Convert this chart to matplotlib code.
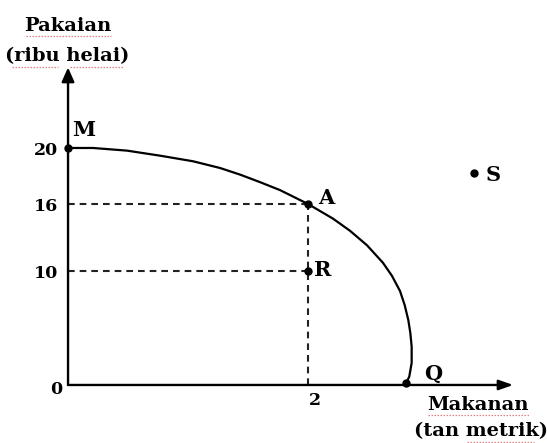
import numpy as np
import matplotlib
matplotlib.use("Agg")
import matplotlib.pyplot as plt
from matplotlib.lines import Line2D

# ---- data ----
curve_x = [0.0, 0.208, 0.492, 0.767, 1.042, 1.267, 1.433, 1.600, 1.767, 2.0,
           2.208, 2.35, 2.492, 2.625, 2.70, 2.767, 2.806, 2.836, 2.853, 2.864, 2.864, 2.844, 2.82]
curve_y = [20.0, 20.0, 19.81, 19.45, 19.05, 18.57, 18.1, 17.56, 16.99, 16.0,
           14.69, 13.6, 12.30, 10.73, 9.57, 8.24, 7.0, 5.70, 4.56, 3.36, 1.93, 0.73, 0.2]
point_names = ["M", "A", "R", "Q", "S"]
point_x = [0.0, 2.0, 2.0, 2.82, 3.38]
point_y = [20.0, 16.0, 10.0, 0.2, 18.2]
y_ticks = [0, 10, 16, 20]
y_tick_labels = ["0", "10", "16", "20"]
x_ticks = [2]
x_tick_labels = ["2"]
y_title = ["Pakaian", "(ribu helai)"]
x_title = ["Makanan", "(tan metrik)"]

# schematic (non-uniform) vertical scale, as drawn in the original
_yd = [-10, 0, 10, 16, 20, 40]
_yp = [-114, 0, 114, 181, 237, 517]
def fwd(v):
    return np.interp(v, _yd, _yp)
def inv(v):
    return np.interp(v, _yp, _yd)

fig = plt.figure(figsize=(5.47, 4.43), dpi=100)
ax = fig.add_axes([0, 0, 1, 1])
ax.set_yscale("function", functions=(fwd, inv))
ax.set_xlim(-0.567, 3.992)
ax.set_ylim(-5.09, 30.57)
ax.axis("off")

font = dict(family="DejaVu Serif", fontweight="bold", color="black")

# axes with arrows
ax.annotate("", xy=(0, 25.75), xytext=(0, 0),
            arrowprops=dict(arrowstyle="-|>,head_length=0.85,head_width=0.38", lw=1.7, color="black",
                            shrinkA=0, shrinkB=0))
ax.annotate("", xy=(3.71, 0), xytext=(0, 0),
            arrowprops=dict(arrowstyle="-|>,head_length=0.85,head_width=0.3", lw=1.7, color="black",
                            shrinkA=0, shrinkB=0))

# PPC curve
ax.plot(curve_x, curve_y, color="black", lw=1.6, solid_joinstyle="round",
        solid_capstyle="round", zorder=3)

# dashed guide lines
dash = (0, (3.2, 2.4))
ax.plot([0, point_x[1]], [point_y[1], point_y[1]], ls=dash, color="#222222", lw=1.5)
ax.plot([0, point_x[2]], [point_y[2], point_y[2]], ls=dash, color="#222222", lw=1.5)
ax.plot([point_x[1], point_x[1]], [0, point_y[1]], ls=dash, color="#222222", lw=1.5)

# points
ax.plot(point_x, point_y, "o", color="black", ms=5, zorder=4)

# point labels
offsets = {"M": (3, 13), "A": (7, 4.5), "R": (4, 0.5), "Q": (13, 6.5), "S": (9, -1.5)}
for n, x, y in zip(point_names, point_x, point_y):
    dx, dy = offsets[n]
    ax.annotate(n, (x, y), xytext=(dx, dy), textcoords="offset points",
                ha="left", va="center", fontsize=15, **font)

# tick labels
for t, lab in zip(y_ticks, y_tick_labels):
    ax.annotate(lab, (0, t), xytext=(-7 if t else -4, -2 if t else -3), textcoords="offset points",
                ha="right", va="center", fontsize=12.5, **font)
for t, lab in zip(x_ticks, x_tick_labels):
    ax.annotate(lab, (t, 0), xytext=(5, -11), textcoords="offset points",
                ha="center", va="center", fontsize=12.5, **font)

# axis titles (placed in figure pixel fractions)
W, H = 547.0, 443.0
def ftxt(px, py, s, size):
    fig.text(px / W, 1 - py / H, s, ha="center", va="center", fontsize=size, **font)
ftxt(68, 26, y_title[0], 14)
ftxt(67, 56, y_title[1], 14)
ftxt(478, 405, x_title[0], 14)
ftxt(481, 431, x_title[1], 14)

# red spell-check underlines as seen in the original
def squiggle(x0, x1, py):
    fig.add_artist(Line2D([x0 / W, x1 / W], [1 - py / H, 1 - py / H], transform=fig.transFigure,
                          color="#e06060", lw=0.9, ls=(0, (1.2, 1.2)), alpha=0.8))
squiggle(26, 111, 36)
squiggle(12, 58, 67)
squiggle(70, 124, 67)
squiggle(428, 529, 415)
squiggle(467, 534, 442)

fig.savefig("out.png", dpi=100)
